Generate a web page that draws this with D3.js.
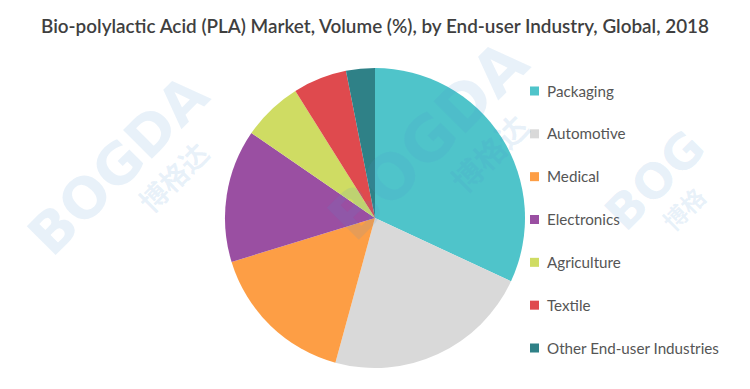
<!DOCTYPE html>
<html>
<head>
<meta charset="utf-8">
<script src="https://cdn.jsdelivr.net/npm/d3@7"></script>
<style>
html,body{margin:0;padding:0;background:#fff;}
svg{display:block;font-family:Lato,"Open Sans",sans-serif;}
</style>
</head>
<body>
<svg id="chart" width="750" height="389"></svg>
<script>
const title = "Bio-polylactic Acid (PLA) Market, Volume (%), by End-user Industry, Global, 2018";
const categories = ["Packaging","Automotive","Medical","Electronics","Agriculture","Textile","Other End-user Industries"];
const values = [31.9, 22.3, 16.0, 14.3, 6.5, 5.8, 3.1];
const colors = ["#4fc4ca","#d9d9d9","#fd9e45","#9a4fa2","#cfdc63","#df4a4e","#2f8187"];
const watermarkLatin = ["BOGDA","BOGDA","BOG"];
const watermarkCJK = ["博格达","博格达","博格"];

const svg = d3.select("#chart");

svg.append("text").attr("x",375).attr("y",33).attr("text-anchor","middle")
  .attr("fill","#3f3f3f").attr("font-size",19).attr("font-weight",600)
  .attr("textLength",668).attr("lengthAdjust","spacingAndGlyphs").text(title);

const cx = 375, cy = 218, r = 150;
const pie = d3.pie().sort(null).value(d=>d)(values);
const arc = d3.arc().innerRadius(0).outerRadius(r);
const color = d3.scaleOrdinal().domain(categories).range(colors);
svg.append("g").attr("transform",`translate(${cx},${cy})`)
  .selectAll("path").data(pie).join("path")
  .attr("d",arc).attr("fill",(d,i)=>color(categories[i]));

const y = d3.scalePoint().domain(categories).range([91,348]);
const lg = svg.append("g").selectAll("g").data(categories).join("g")
  .attr("transform",d=>`translate(530,${y(d)})`);
lg.append("rect").attr("x",0).attr("y",-4.5).attr("width",9).attr("height",9).attr("fill",d=>color(d));
lg.append("text").attr("x",17).attr("y",5.5).attr("font-size",15.2).attr("fill","#555").text(d=>d);

// faint watermark overlay
const wmPos = [[118,165,56,0.55],[428,140,62,0.55],[655,180,48,0]];
const wm = svg.append("g").attr("fill","#4a8fd0").attr("fill-opacity",0.13).attr("pointer-events","none");
wmPos.forEach(([x,yy,fs,dx],i)=>{
  const g = wm.append("g").attr("transform",`translate(${x},${yy}) rotate(-45)`);
  g.append("text").attr("text-anchor","middle").attr("y",fs*0.35)
    .style("font-family","DejaVu Sans, sans-serif").attr("font-weight","bold")
    .attr("font-size",fs).text(watermarkLatin[i]);
  g.append("text").attr("text-anchor","middle").attr("x",fs*dx).attr("y",fs*1.05)
    .style("font-family","Noto Sans CJK SC, sans-serif").attr("font-weight","bold")
    .attr("font-size",fs*0.5).text(watermarkCJK[i]);
});
</script>
</body>
</html>
